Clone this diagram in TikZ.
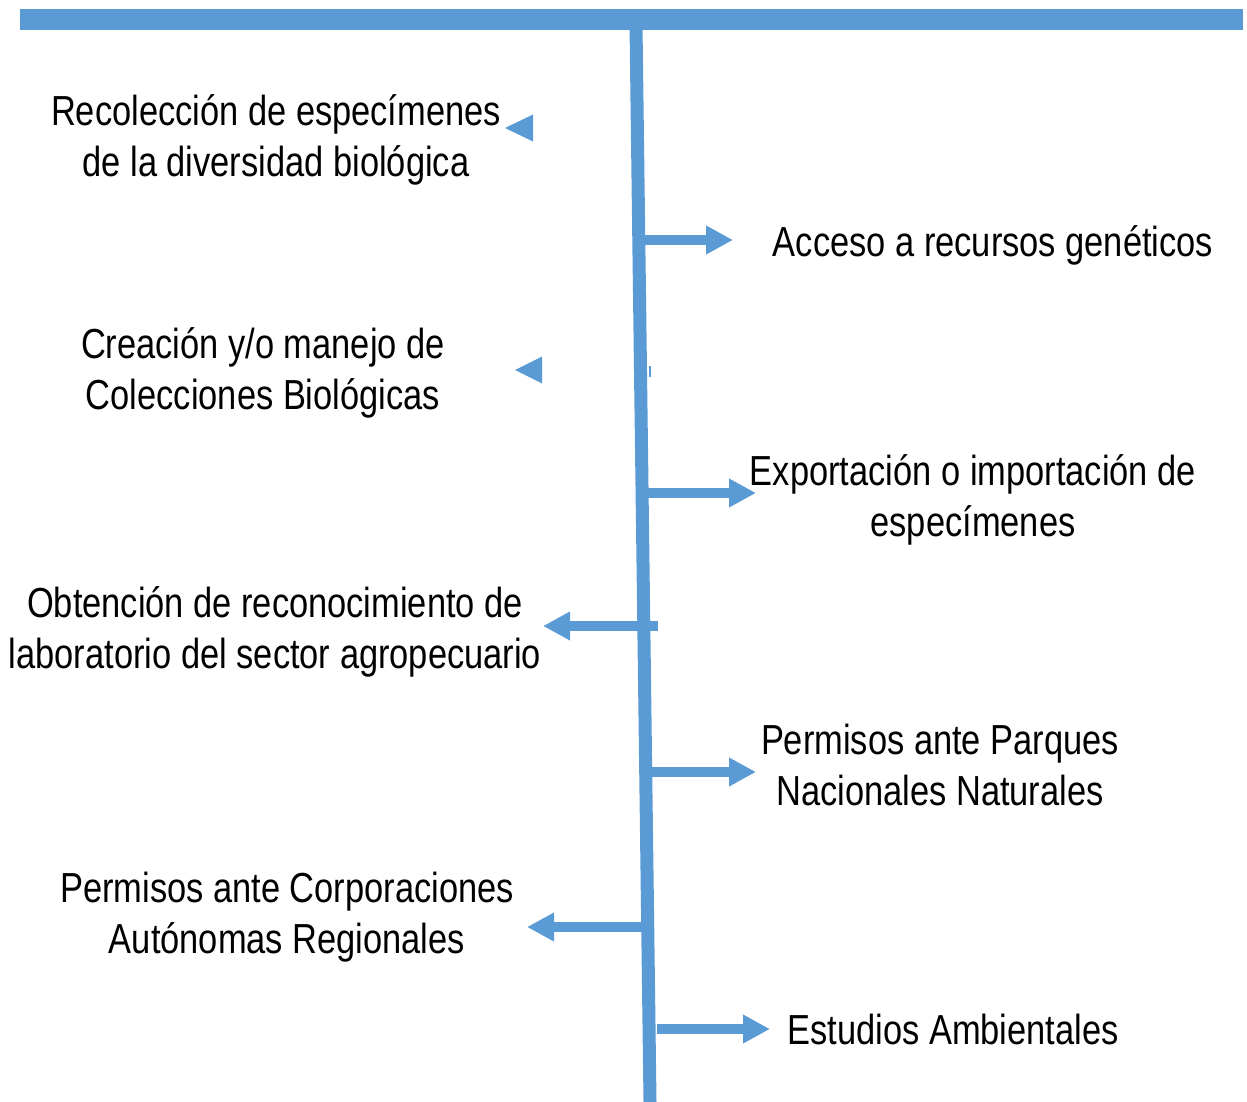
\documentclass[tikz,border=0pt]{standalone}
\usepackage{fontspec}
\setmainfont[FakeStretch=0.82]{Liberation Sans}
\usetikzlibrary{arrows.meta}
\definecolor{azul}{RGB}{91,155,213}
\begin{document}
\begin{tikzpicture}[x=1pt, y=-1pt]
		\tikzstyle{rotulo} = [anchor=base, align=center, inner sep=0pt, font=\fontsize{42}{51}\selectfont]
		\tikzstyle{flecha} = [azul, line width=10pt, -{Triangle[length=27pt, width=27pt]}]
		\useasboundingbox (0,0) rectangle (1247,1102);
		% barra superior y eje
		\fill[azul] (20,9) rectangle (1243,30);
		\coordinate (arriba) at (636,25);
		\coordinate (abajo) at (650,1102);
		\draw[azul, line width=13pt] (arriba) -- (abajo);
		\draw[azul, line width=1.5pt] (650,366) -- (650,377);
		% textos (base de la ultima linea)
		\node[rotulo](recoleccion) at (276,177) {Recolección de especímenes\\de la diversidad biológica};
		\node[rotulo](acceso) at (993,256) {Acceso a recursos genéticos};
		\node[rotulo](colecciones) at (263,409) {Creación y/o manejo de\\Colecciones Biológicas};
		\node[rotulo](exportacion) at (973,536) {Exportación o importación de\\especímenes};
		\node[rotulo](laboratorio) at (275,668) {Obtención de reconocimiento de\\laboratorio del sector agropecuario};
		\node[rotulo](parques) at (940,805) {Permisos ante Parques\\Nacionales Naturales};
		\node[rotulo](corporaciones) at (287,953) {Permisos ante Corporaciones\\Autónomas Regionales};
		\node[rotulo](estudios) at (953,1044) {Estudios Ambientales};
		% puntas sueltas
		\fill[azul] (505,128) -- (533,114.5) -- (533,141.5) -- cycle;
		\fill[azul] (515,370) -- (542,356.5) -- (542,383.5) -- cycle;
		% flechas
		\coordinate (a1) at (642,240);   \coordinate (b1) at (733,240);
		\coordinate (a2) at (644,493);   \coordinate (b2) at (756,493);
		\coordinate (a3) at (658,626);   \coordinate (b3) at (543,626);
		\coordinate (a4) at (646,772);   \coordinate (b4) at (756,772);
		\coordinate (a5) at (643,927);   \coordinate (b5) at (527,927);
		\coordinate (a6) at (657,1029);  \coordinate (b6) at (770,1029);
		\path (a1) edge[flecha] (b1);
		\path (a2) edge[flecha] (b2);
		\path (a3) edge[flecha] (b3);
		\path (a4) edge[flecha] (b4);
		\path (a5) edge[flecha] (b5);
		\path (a6) edge[flecha] (b6);
\end{tikzpicture}
\end{document}
